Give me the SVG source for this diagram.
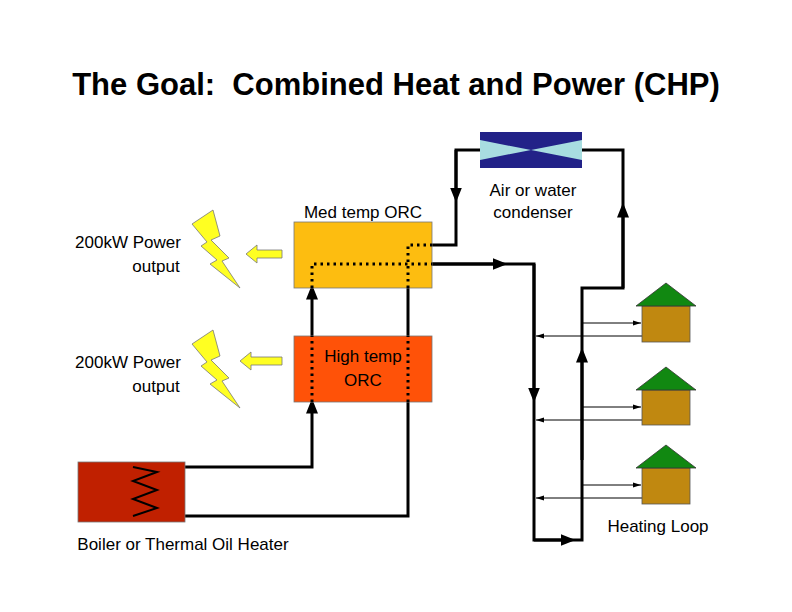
<svg xmlns="http://www.w3.org/2000/svg" width="792" height="612" viewBox="0 0 792 612">
<style>
text{font-family:"Liberation Sans",Arial,sans-serif;font-size:17px;fill:#000}
.p{fill:none;stroke:#000;stroke-width:3}
.t{fill:none;stroke:#000;stroke-width:1}
.d{fill:none;stroke:#000;stroke-width:3;stroke-dasharray:2.5 4}
.roof{fill:#118811;stroke:#333;stroke-width:0.8}
.body{fill:#c08810;stroke:#555;stroke-width:0.8}
.bolt{fill:#ffff22;stroke:#777;stroke-width:0.8}
.ya{fill:#ffff22;stroke:#777;stroke-width:0.8}
</style>
<defs>
<marker id="a" viewBox="0 0 10 10" refX="5" refY="5" markerWidth="5" markerHeight="5" orient="auto"><path d="M0 1L10 5L0 9z"/></marker>
<marker id="s" viewBox="0 0 10 10" refX="10" refY="5" markerWidth="8" markerHeight="8" orient="auto"><path d="M0 2L10 5L0 8z"/></marker>
</defs>
<rect width="792" height="612" fill="#fff"/>
<text x="396" y="95" text-anchor="middle" xml:space="preserve" style="font-size:31px;font-weight:bold">The Goal:  Combined Heat and Power (CHP)</text>

<g id="connectors">
<path class="p" d="M432 245H456V150H480"/>
<path class="p" d="M456 150V195" marker-end="url(#a)"/>
<path class="p" d="M582 150H623V288H582V540H534V264H432"/>
<path class="p" d="M432 264H500" marker-end="url(#a)"/>
<path class="p" d="M623 288V210" marker-end="url(#a)"/>
<path class="p" d="M582 460V355" marker-end="url(#a)"/>
<path class="p" d="M534 264V395" marker-end="url(#a)"/>
<path class="p" d="M534 540H568" marker-end="url(#a)"/>
<path class="p" d="M312 336V292" marker-end="url(#a)"/>
<path class="p" d="M408 288V336"/>
<path class="p" d="M133 467H312V406" marker-end="url(#a)"/>
<path class="p" d="M133 516H408V402"/>
<path class="t" d="M582 323H641" marker-end="url(#s)"/>
<path class="t" d="M642 336H536" marker-end="url(#s)"/>
<path class="t" d="M582 407H641" marker-end="url(#s)"/>
<path class="t" d="M642 420H536" marker-end="url(#s)"/>
<path class="t" d="M582 485H641" marker-end="url(#s)"/>
<path class="t" d="M642 498H536" marker-end="url(#s)"/>
</g>

<g id="med"><rect x="294" y="222" width="138" height="66" fill="#fdbd10" stroke="#777" stroke-width="0.8"/>
<text x="363" y="218" text-anchor="middle">Med temp ORC</text></g>
<g id="high"><rect x="294" y="336" width="138" height="66" fill="#ff5208" stroke="#777" stroke-width="0.8"/>
<text x="363" y="362" text-anchor="middle">High temp</text><text x="363" y="386" text-anchor="middle">ORC</text></g>
<g id="dots">
<path class="d" d="M312 288V264H432"/>
<path class="d" d="M408 288V245H432"/>
<path class="d" d="M312 402V336M408 402V336"/>
</g>
<g id="condenser">
<rect x="480" y="132" width="102" height="36" fill="#222288"/>
<path d="M480 140L531 150L582 140V160L531 150L480 160z" fill="#a8dde0"/>
<text x="533" y="196" text-anchor="middle">Air or water</text><text x="533" y="218" text-anchor="middle">condenser</text>
</g>
<g id="boiler">
<rect x="78" y="462" width="107" height="60" fill="#c02000" stroke="#777" stroke-width="0.8"/>
<path d="M133 467L157 472L133 481L157 490L133 499L157 508L133 516" fill="none" stroke="#000" stroke-width="2"/>
<text x="183" y="550" text-anchor="middle">Boiler or Thermal Oil Heater</text>
</g>
<g id="house1"><rect class="body" x="642" y="306" width="48" height="36"/><path class="roof" d="M636 306L666 283L696 306z"/></g>
<g id="house2"><rect class="body" x="642" y="390" width="48" height="35"/><path class="roof" d="M636 390L666 367L696 390z"/></g>
<g id="house3"><rect class="body" x="642" y="468" width="48" height="36"/><path class="roof" d="M636 468L666 445L696 468z"/></g>
<text x="658" y="532" text-anchor="middle">Heating Loop</text>
<g id="power1">
<path class="bolt" d="M192 224L213 210L220 236L211 240L229 258L222 261L240 288L210 264L217 260L201 246L207 242z"/>
<path class="ya" d="M246 254L257 245V250H282V258H257V263z"/>
<text x="128" y="248" text-anchor="middle">200kW Power</text><text x="156" y="272" text-anchor="middle">output</text>
</g>
<g id="power2">
<path class="bolt" d="M192 344L213 330L220 356L211 360L229 378L222 381L240 408L210 384L217 380L201 366L207 362z"/>
<path class="ya" d="M240 361L251 352V357H282V365H251V370z"/>
<text x="128" y="368" text-anchor="middle">200kW Power</text><text x="156" y="392" text-anchor="middle">output</text>
</g>
</svg>
